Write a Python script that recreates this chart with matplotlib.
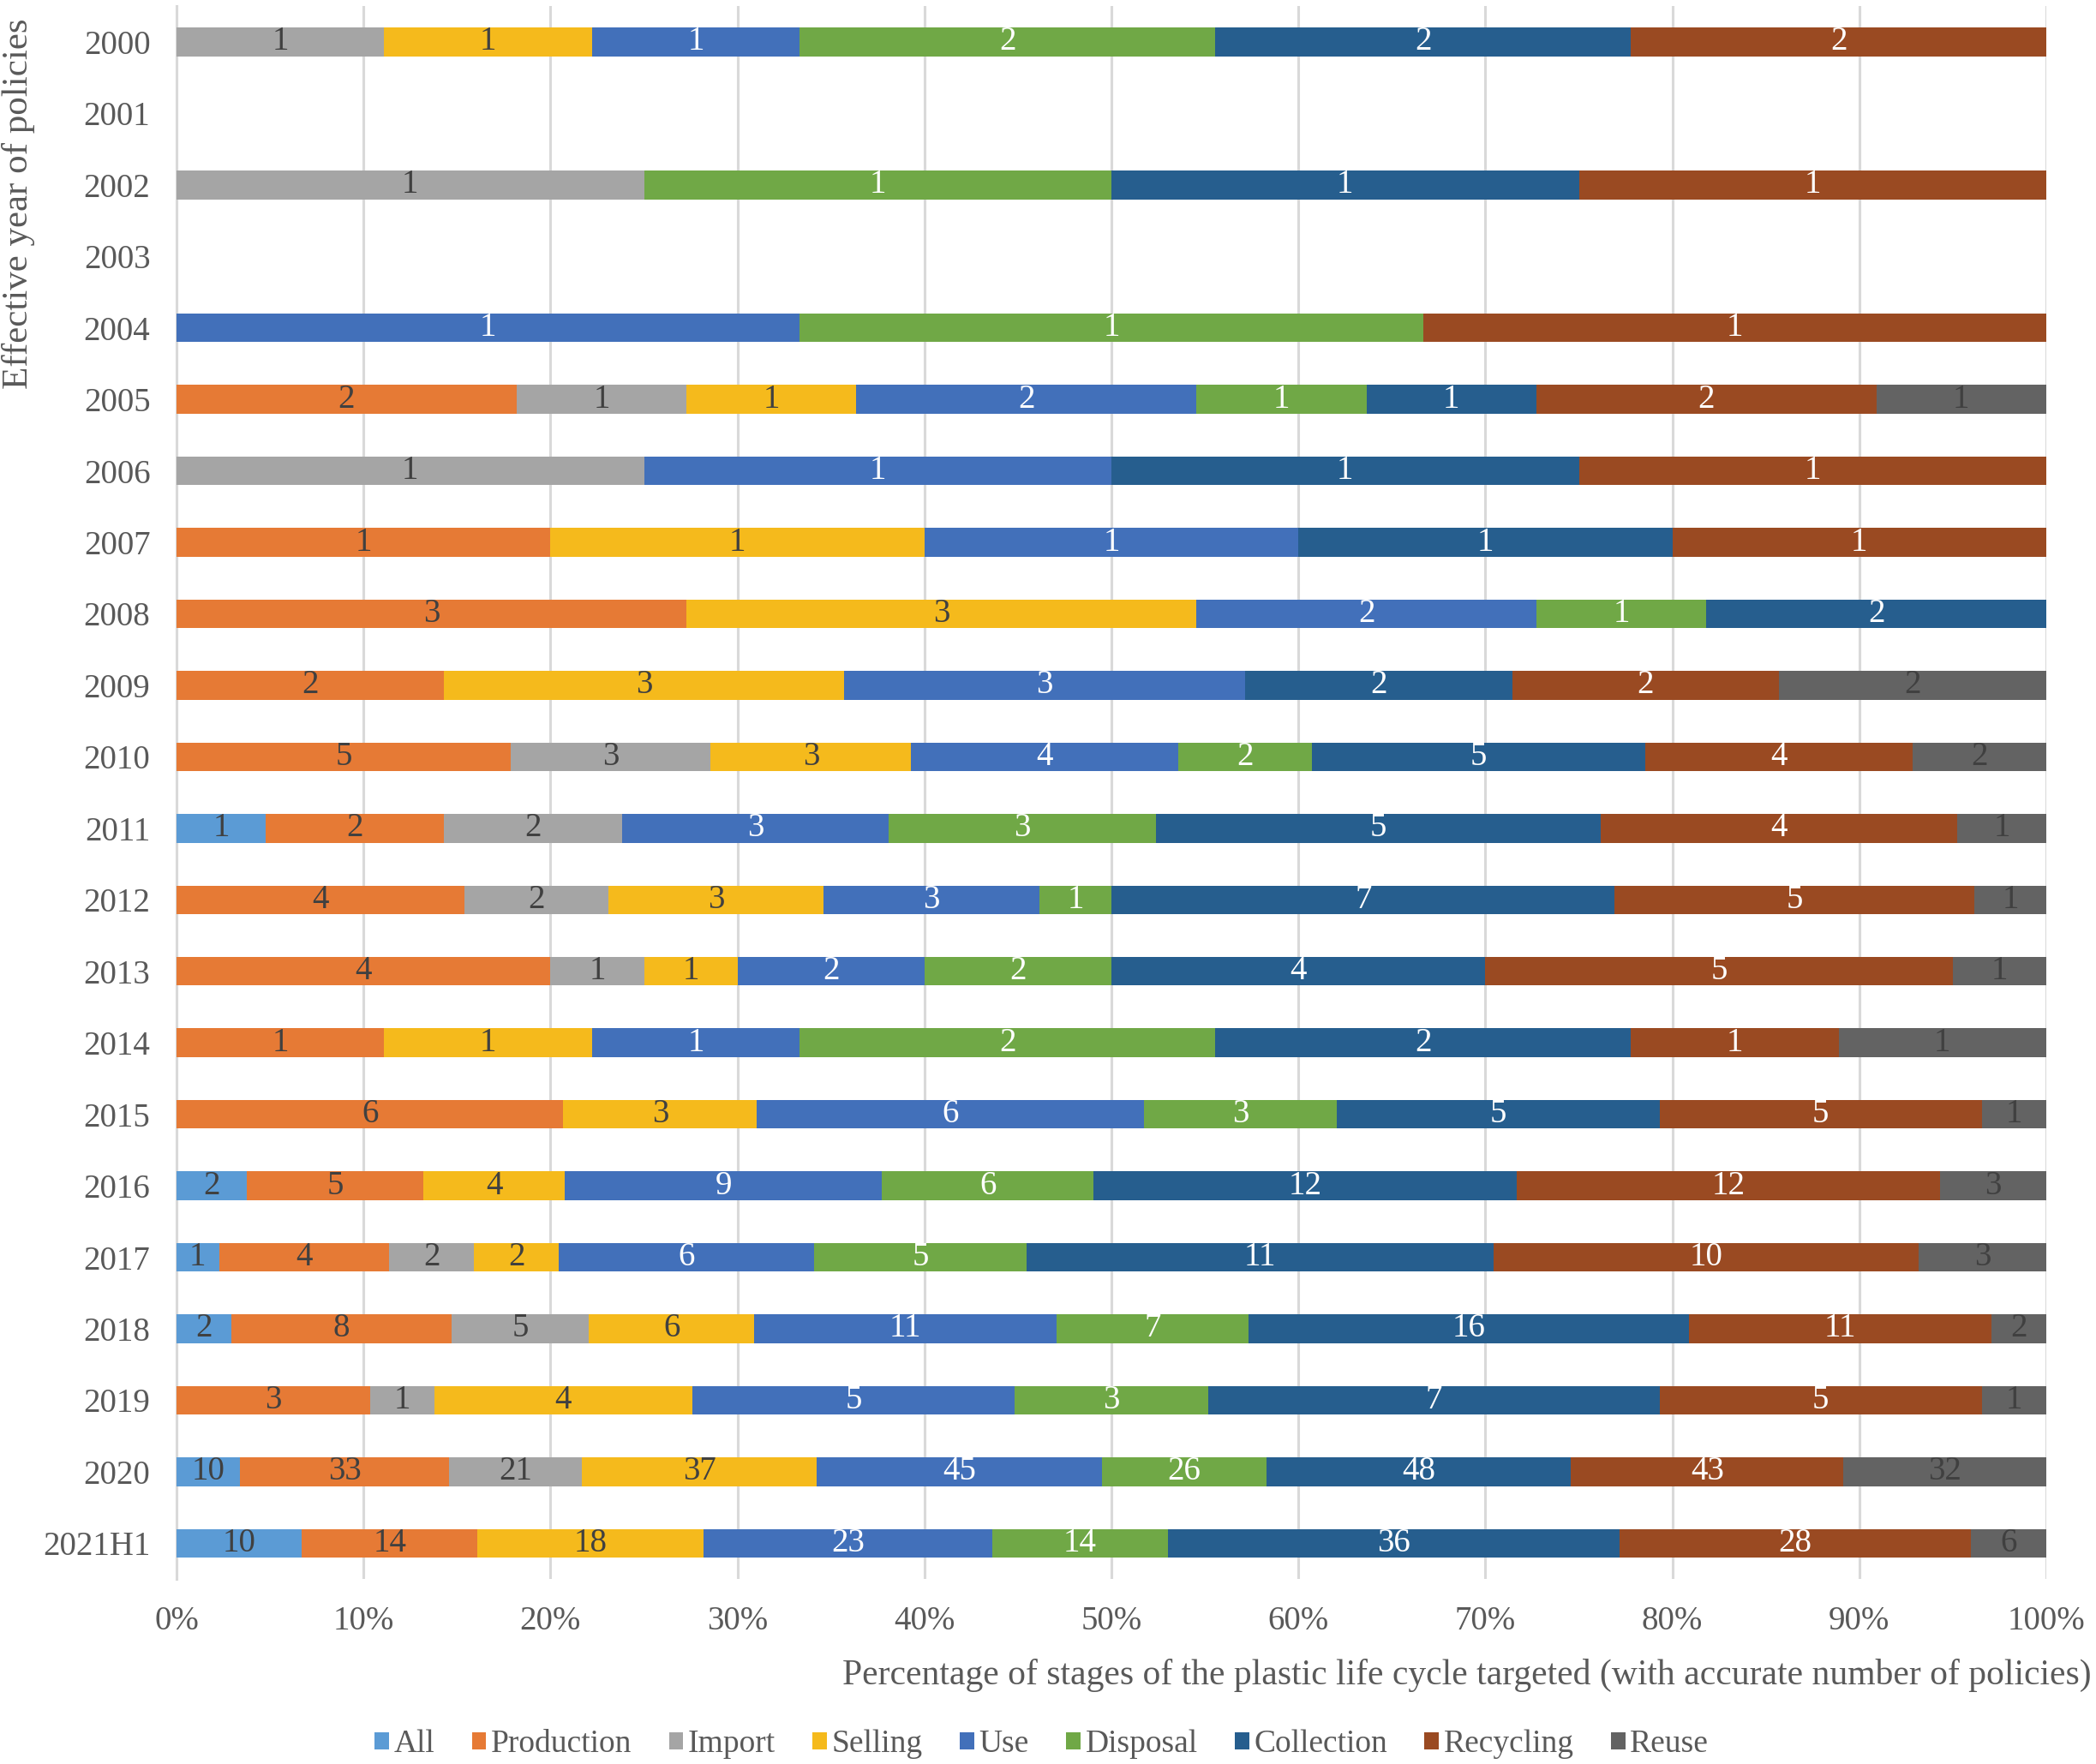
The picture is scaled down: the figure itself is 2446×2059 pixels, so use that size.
import numpy as np
import matplotlib
matplotlib.use("Agg")
import matplotlib.pyplot as plt

plt.rcParams['font.family'] = ['Liberation Serif', 'DejaVu Serif']

years = ["2000", "2001", "2002", "2003", "2004", "2005", "2006", "2007", "2008", "2009", "2010",
         "2011", "2012", "2013", "2014", "2015", "2016", "2017", "2018", "2019", "2020", "2021H1"]
stages = ["All", "Production", "Import", "Selling", "Use", "Disposal", "Collection", "Recycling", "Reuse"]

all_ = [0, 0, 0, 0, 0, 0, 0, 0, 0, 0, 0, 1, 0, 0, 0, 0, 2, 1, 2, 0, 10, 10]
production = [0, 0, 0, 0, 0, 2, 0, 1, 3, 2, 5, 2, 4, 4, 1, 6, 5, 4, 8, 3, 33, 14]
import_ = [1, 0, 1, 0, 0, 1, 1, 0, 0, 0, 3, 2, 2, 1, 0, 0, 0, 2, 5, 1, 21, 0]
selling = [1, 0, 0, 0, 0, 1, 0, 1, 3, 3, 3, 0, 3, 1, 1, 3, 4, 2, 6, 4, 37, 18]
use = [1, 0, 0, 0, 1, 2, 1, 1, 2, 3, 4, 3, 3, 2, 1, 6, 9, 6, 11, 5, 45, 23]
disposal = [2, 0, 1, 0, 1, 1, 0, 0, 1, 0, 2, 3, 1, 2, 2, 3, 6, 5, 7, 3, 26, 14]
collection = [2, 0, 1, 0, 0, 1, 1, 1, 2, 2, 5, 5, 7, 4, 2, 5, 12, 11, 16, 7, 48, 36]
recycling = [2, 0, 1, 0, 1, 2, 1, 1, 0, 2, 4, 4, 5, 5, 1, 5, 12, 10, 11, 5, 43, 28]
reuse = [0, 0, 0, 0, 0, 1, 0, 0, 0, 2, 2, 1, 1, 1, 1, 1, 3, 3, 2, 1, 32, 6]

series = [all_, production, import_, selling, use, disposal, collection, recycling, reuse]
colors = ['#5B9BD5', '#E67A35', '#A5A5A5', '#F5BA1C', '#4270BA',
          '#70A846', '#265E8E', '#9A4A22', '#636363']
label_colors = ['#404040', '#404040', '#404040', '#404040', 'white',
                'white', 'white', 'white', '#404040']

data = np.array(series, dtype=float)
totals = data.sum(axis=0)
safe_totals = np.where(totals == 0, 1, totals)
shares = data / safe_totals

fig = plt.figure(figsize=(24.46, 20.59), dpi=100)
ax = fig.add_axes([206 / 2446, 0.1049, (2388 - 206) / 2446, 0.8916])

y = np.arange(len(years))
left = np.zeros(len(years))
for i, name in enumerate(stages):
    ax.barh(y, shares[i], left=left, height=0.4, color=colors[i], label=name, zorder=3)
    for j in range(len(years)):
        if data[i, j] > 0:
            ax.text(left[j] + shares[i, j] / 2, y[j], f"{int(data[i, j])}",
                    ha='center', va='center', fontsize=28, color=label_colors[i], zorder=4)
    left = left + shares[i]

ax.set_xlim(0, 1)
ax.set_ylim(len(years) - 0.5, -0.5)
ax.set_yticks(y)
ax.set_yticklabels(years)
ax.set_xticks(np.arange(0, 1.01, 0.1))
ax.set_xticklabels([f"{int(round(v * 100))}%" for v in np.arange(0, 1.01, 0.1)])
ax.tick_params(axis='both', length=0, labelsize=28, colors='#595959')
ax.tick_params(axis='y', pad=22)
ax.tick_params(axis='x', pad=22)

ax.grid(axis='x', color='#D9D9D9', linewidth=2.2, zorder=0)
for s in ['top', 'right', 'bottom']:
    ax.spines[s].set_visible(False)
ax.spines['left'].set_color('#D9D9D9')
ax.spines['left'].set_linewidth(2.2)

fig.text(2441 / 2446, 1 - 1955 / 2059,
         "Percentage of stages of the plastic life cycle targeted (with accurate number of policies)",
         ha='right', va='center', fontsize=30, color='#595959')
fig.text(22 / 2446, 1 - 238 / 2059, "Effective year of policies",
         rotation=90, ha='center', va='center', fontsize=31, color='#595959')

handles, labels = ax.get_legend_handles_labels()
leg = fig.legend(handles, labels, loc='center', bbox_to_anchor=(0.497, 1 - 2036 / 2059),
                 ncol=9, frameon=False, fontsize=27, handlelength=0.45, handleheight=0.45,
                 handletextpad=0.15, columnspacing=1.15)
for t in leg.get_texts():
    t.set_color('#595959')

fig.savefig("out.png", dpi=100)
